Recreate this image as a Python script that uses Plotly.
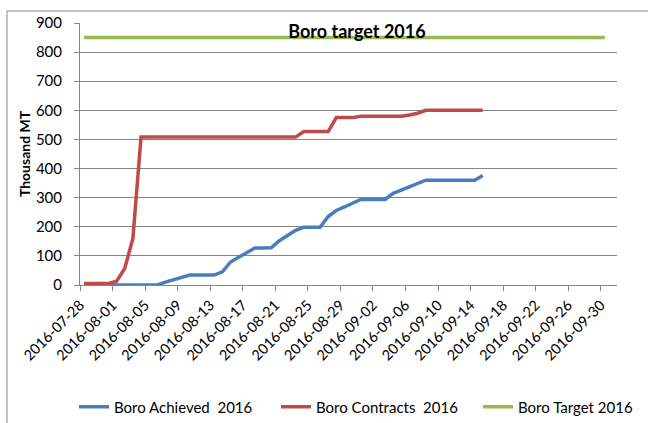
import plotly.graph_objects as go
import pandas as pd

# ---- data ----
start_date = "2016-07-28"
achieved = [0, 0, 0, 0, 0, 0, 0, 0, 0, 0,
            10, 17, 25, 34, 34, 34, 34, 45, 79, 95,
            112, 127, 127, 128, 152, 171, 188, 198, 198, 198,
            235, 256, 268, 281, 294, 294, 294, 294, 315, 326,
            336, 347, 360, 360, 360, 360, 360, 360, 360, 376]
contracts = [5, 5, 5, 5, 13, 57, 160, 508, 508, 508,
             508, 508, 508, 508, 508, 508, 508, 508, 508, 508,
             508, 508, 508, 508, 508, 508, 508, 527, 527, 527,
             527, 575, 575, 575, 580, 580, 580, 580, 580, 580,
             584, 590, 600, 600, 600, 600, 600, 600, 600, 600]
target_value = 850
target_days = 65
tick_labels = ["2016-07-28", "2016-08-01", "2016-08-05", "2016-08-09", "2016-08-13",
               "2016-08-17", "2016-08-21", "2016-08-25", "2016-08-29", "2016-09-02",
               "2016-09-06", "2016-09-10", "2016-09-14", "2016-09-18", "2016-09-22",
               "2016-09-26", "2016-09-30"]
series_names = ["Boro Achieved  2016", "Boro Contracts  2016", "Boro Target 2016"]
colors = ["#4A7EBB", "#BE4B48", "#98B954"]

dates_a = pd.date_range(start_date, periods=len(achieved), freq="D")
dates_c = pd.date_range(start_date, periods=len(contracts), freq="D")
dates_t = pd.date_range(start_date, periods=target_days, freq="D")
target = [target_value] * target_days

FONT = "Lato, Carlito, Calibri, sans-serif"
DAY_MS = 86400000
W, H = 648, 423
legend_ids = ["legend", "legend2", "legend3"]
legend_x = [74, 276, 478]

fig = go.Figure()
for x, y, name, c, lid in [(dates_a, achieved, series_names[0], colors[0], legend_ids[0]),
                           (dates_c, contracts, series_names[1], colors[1], legend_ids[1]),
                           (dates_t, target, series_names[2], colors[2], legend_ids[2])]:
    fig.add_trace(go.Scatter(x=x, y=y, mode="lines", name=name, legend=lid,
                             line=dict(color=c, width=3.5),
                             xperiod=DAY_MS, xperiodalignment="middle"))

legends = {}
for lid, lx in zip(legend_ids, legend_x):
    legends[lid] = dict(orientation="h", xref="container", yref="container",
                        x=lx / W, xanchor="left", y=1 - 407 / H, yanchor="middle",
                        font=dict(family=FONT, size=15), bgcolor="rgba(0,0,0,0)")

bx = (7 - 80) / 537
by = (285 - 11) / 262

fig.update_layout(
    width=W, height=H,
    margin=dict(l=80, r=31, t=23, b=138, autoexpand=False),
    paper_bgcolor="white", plot_bgcolor="white",
    font=dict(family=FONT, size=14, color="black"),
    title=dict(text="<b>Boro target 2016</b>", x=357 / W, xref="container",
               xanchor="center", y=1 - 32 / H, yanchor="middle",
               font=dict(family=FONT, size=18, color="black")),
    showlegend=True,
    xaxis=dict(type="date", range=["2016-07-28", "2016-10-02"], automargin=False,
               tickvals=tick_labels, ticktext=tick_labels, tickangle=-45,
               showgrid=False, showline=True, linecolor="#868686", linewidth=1,
               ticks="outside", ticklen=5, tickcolor="#868686",
               tickfont=dict(family=FONT, size=14.5), zeroline=False),
    yaxis=dict(range=[0, 900], dtick=100, tick0=0, automargin=False,
               showgrid=True, gridcolor="#868686", gridwidth=1,
               showline=True, linecolor="#868686", linewidth=1,
               ticks="outside", ticklen=5, tickcolor="#868686",
               tickfont=dict(family=FONT, size=15), ticklabelstandoff=9,
               zeroline=False,
               title=dict(text="<b>Thousand MT</b>", font=dict(family=FONT, size=14),
                          standoff=1)),
    shapes=[dict(type="line", xref="paper", yref="paper",
                 x0=bx, x1=bx, y0=-0.6, y1=by,
                 line=dict(color="#868686", width=1), layer="below"),
            dict(type="line", xref="paper", yref="paper",
                 x0=bx, x1=1.3, y0=by, y1=by,
                 line=dict(color="#868686", width=1), layer="below")],
    **legends,
)

fig.write_html(
    "out.html",
    config={"displayModeBar": False},
    post_script="document.body.style.margin='0';document.body.style.overflow='hidden';",
)
